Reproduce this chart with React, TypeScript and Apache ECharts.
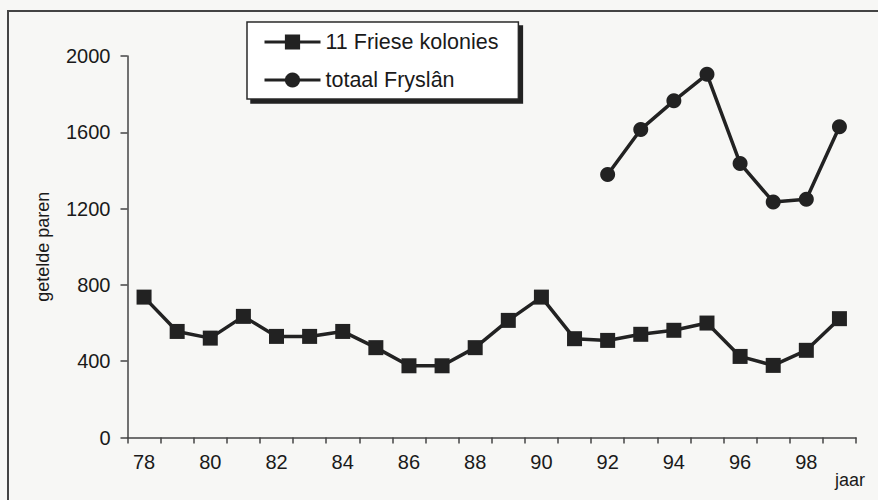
import React, { useEffect, useRef } from "react";
import * as echarts from "echarts";

const years = ["78","79","80","81","82","83","84","85","86","87","88","89","90","91","92","93","94","95","96","97","98","99"];
const kolonies = [736, 556, 521, 635, 530, 530, 556, 471, 376, 376, 471, 614, 736, 518, 509, 541, 562, 600, 425, 378, 457, 623];
const fryslan = [null, null, null, null, null, null, null, null, null, null, null, null, null, null, 1379, 1615, 1765, 1904, 1437, 1235, 1249, 1629];
const yTicks = { min: 0, max: 2000, interval: 400 };

const FONT = "'Liberation Sans', Arial, sans-serif";
const INK = "#1a1a1a";

export default function App() {
  const ref = useRef<HTMLDivElement>(null);
  useEffect(() => {
    if (!ref.current) return;
    const chart = echarts.init(ref.current, null, { renderer: "svg" });
    chart.setOption({
      animation: false,
      backgroundColor: "#f7f7f5",
      textStyle: { fontFamily: FONT, color: INK },
      grid: { left: 127.5, right: 22, top: 56, bottom: 62.5, containLabel: false },
      legend: {
        orient: "vertical",
        left: 247,
        top: 22,
        padding: [9, 20, 8, 16],
        itemWidth: 56,
        itemHeight: 19,
        itemGap: 16,
        backgroundColor: "#ffffff",
        borderColor: "#2a2a2a",
        borderWidth: 1.5,
        shadowColor: "#222",
        shadowBlur: 0,
        shadowOffsetX: 4,
        shadowOffsetY: 4,
        lineStyle: { width: 3, color: "#222" },
        textStyle: { fontFamily: FONT, fontSize: 21.5, color: INK },
        data: ["11 Friese kolonies", "totaal Fryslân"],
      },
      xAxis: {
        type: "category",
        data: years,
        boundaryGap: true,
        axisLine: { lineStyle: { color: "#444", width: 1.5 } },
        axisTick: { show: true, interval: 0, length: 6, lineStyle: { color: "#444", width: 1.5 } },
        axisLabel: { interval: 1, margin: 14, fontSize: 20, color: INK, fontFamily: FONT },
        splitLine: { show: false },
      },
      yAxis: {
        type: "value",
        min: yTicks.min,
        max: yTicks.max,
        interval: yTicks.interval,
        name: "getelde paren",
        nameLocation: "middle",
        nameRotate: 90,
        nameGap: 76,
        nameTextStyle: { fontSize: 18, color: INK, fontFamily: FONT },
        axisLine: { show: true, lineStyle: { color: "#444", width: 1.5 } },
        axisTick: { show: true, length: 7, lineStyle: { color: "#444", width: 1.5 } },
        axisLabel: {
          margin: 17,
          fontSize: 20,
          color: INK,
          fontFamily: FONT,
          formatter: (v: number) => String(v),
        },
        splitLine: { show: false },
      },
      graphic: [
        {
          type: "rect",
          shape: { x: 8, y: 11, width: 900, height: 520 },
          style: { fill: "none", stroke: "#444", lineWidth: 2 },
          silent: true,
        },
        {
          type: "text",
          x: 835,
          y: 471,
          style: { text: "jaar", fontSize: 18, fill: INK, fontFamily: FONT },
        },
      ],
      series: [
        {
          name: "11 Friese kolonies",
          type: "line",
          data: kolonies,
          symbol: "rect",
          symbolSize: 15,
          showSymbol: true,
          lineStyle: { color: "#222", width: 3.5 },
          itemStyle: { color: "#222" },
        },
        {
          name: "totaal Fryslân",
          type: "line",
          data: fryslan,
          symbol: "circle",
          symbolSize: 15,
          connectNulls: false,
          lineStyle: { color: "#222", width: 3.5 },
          itemStyle: { color: "#222" },
        },
      ],
    });
    return () => chart.dispose();
  }, []);
  return (
    <div
      ref={ref}
      style={{ position: "fixed", left: 0, top: 0, width: 878, height: 500 }}
    />
  );
}
